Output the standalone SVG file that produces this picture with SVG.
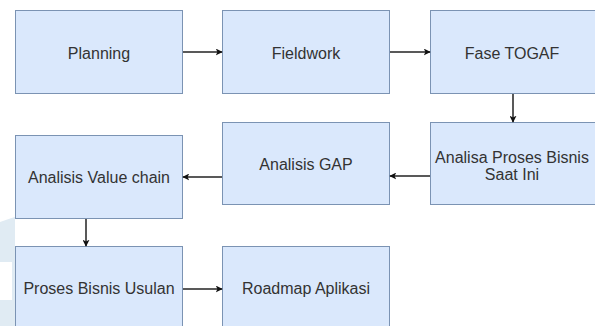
<svg xmlns="http://www.w3.org/2000/svg" width="595" height="326" viewBox="0 0 595 326">
<style>
.box{fill:#dae8fc;stroke:#7b93b3;stroke-width:1}
.t{font-family:"Liberation Sans",Arial,sans-serif;font-size:16px;fill:#333;text-anchor:middle}
.c{stroke:#222;stroke-width:1.5;fill:none}
</style>
<defs>
<marker id="ah" viewBox="0 0 10 10" refX="9" refY="5" markerWidth="7" markerHeight="7" markerUnits="userSpaceOnUse" orient="auto">
<path d="M0,0 L10,5 L0,10 L2.5,5 Z" fill="#111"/>
</marker>
</defs>
<rect width="595" height="326" fill="#fff"/>
<path d="M0,222 Q20,214 45,212 L15,216 L15,326 L0,326 Z" fill="#d8e6f0" opacity="0.8"/>
<rect x="0" y="262" width="12" height="38" fill="#fff"/>
<g id="planning"><rect class="box" x="15.5" y="10.5" width="167" height="83"/><text class="t" x="99" y="59">Planning</text></g>
<g id="fieldwork"><rect class="box" x="222.5" y="10.5" width="167" height="83"/><text class="t" x="306" y="59">Fieldwork</text></g>
<g id="fasetogaf"><rect class="box" x="430.5" y="10.5" width="167" height="83"/><text class="t" x="512" y="59">Fase TOGAF</text></g>
<g id="analisaproses"><rect class="box" x="430.5" y="122.5" width="167" height="82"/><text class="t" x="512" y="163">Analisa Proses Bisnis</text><text class="t" x="512" y="180">Saat Ini</text></g>
<g id="analisisgap"><rect class="box" x="222.5" y="122.5" width="167" height="82"/><text class="t" x="306" y="170">Analisis GAP</text></g>
<g id="valuechain"><rect class="box" x="15.5" y="135.5" width="167" height="83"/><text class="t" x="99" y="183">Analisis Value chain</text></g>
<g id="prosesusulan"><rect class="box" x="15.5" y="246.5" width="167" height="90"/><text class="t" x="99" y="294">Proses Bisnis Usulan</text></g>
<g id="roadmap"><rect class="box" x="222.5" y="246.5" width="167" height="90"/><text class="t" x="306" y="294">Roadmap Aplikasi</text></g>
<g id="connectors">
<line class="c" x1="183" y1="52" x2="222" y2="52" marker-end="url(#ah)"/>
<line class="c" x1="390" y1="52" x2="430" y2="52" marker-end="url(#ah)"/>
<line class="c" x1="513" y1="94" x2="513" y2="122" marker-end="url(#ah)"/>
<line class="c" x1="430" y1="176" x2="390" y2="176" marker-end="url(#ah)"/>
<line class="c" x1="222" y1="177" x2="183" y2="177" marker-end="url(#ah)"/>
<line class="c" x1="86" y1="219" x2="86" y2="246" marker-end="url(#ah)"/>
<line class="c" x1="183" y1="289" x2="222" y2="289" marker-end="url(#ah)"/>
</g>
</svg>
